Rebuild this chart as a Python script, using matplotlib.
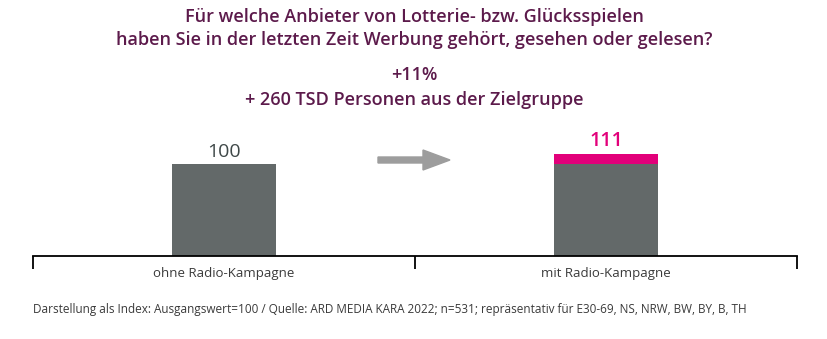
import matplotlib.pyplot as plt
from matplotlib.patches import FancyArrow

categories = ["ohne Radio-Kampagne", "mit Radio-Kampagne"]
base = [100, 100]
uplift = [0, 11]
totals = [100, 111]

gray = "#636969"
pink = "#e2007a"
purple = "#5c1a4b"

plt.rcParams['font.family'] = ['Open Sans', 'DejaVu Sans']

fig = plt.figure(figsize=(8.28, 3.39), dpi=100)
W, H = 828, 339
ax = fig.add_axes([33 / W, (H - 256) / H, (797 - 33) / W, 138 / H])

xs = [0.5, 1.5]
ax.bar(xs, base, width=0.272, color=gray, zorder=2)
ax.bar(xs, uplift, bottom=base, width=0.272, color=pink, zorder=2)

for x, t in zip(xs, totals):
    if t == 100:
        c, w = "#3f4848", "normal"
    else:
        c, w = pink, "semibold"
    ax.text(x, t + 3, str(t), ha="center", va="bottom", fontsize=14, color=c,
            fontweight=w)

for x, c in zip(xs, categories):
    ax.text(x, -19, c, ha="center", va="center", fontsize=9.5, color="#3a3a3a")

ax.set_xlim(0, 2)
ax.set_ylim(0, 150)
for s in ["top", "left", "right"]:
    ax.spines[s].set_visible(False)
ax.spines["bottom"].set_linewidth(1.3)
ax.set_yticks([])
ax.set_xticks([0, 1, 2])
ax.set_xticklabels([])
ax.tick_params(axis="x", direction="out", length=9, width=1.3)

# arrow between the two bars
fig.patches.append(FancyArrow(378 / W, (H - 160) / H, 72 / W, 0, width=6 / H,
                              head_width=20 / H, head_length=27 / W,
                              length_includes_head=True, color="#9d9d9d",
                              transform=fig.transFigure, figure=fig))

fig.text(0.5, 1 - 17 / H, "Für welche Anbieter von Lotterie- bzw. Glücksspielen",
         ha="center", va="center", fontsize=13, color=purple, fontweight="semibold")
fig.text(0.5, 1 - 40 / H, "haben Sie in der letzten Zeit Werbung gehört, gesehen oder gelesen?",
         ha="center", va="center", fontsize=13, color=purple, fontweight="semibold")
fig.text(0.5, 1 - 75 / H, "+11%", ha="center", va="center", fontsize=13,
         color=purple, fontweight="semibold")
fig.text(0.5, 1 - 100 / H, "+ 260 TSD Personen aus der Zielgruppe", ha="center",
         va="center", fontsize=13, color=purple, fontweight="semibold")

fig.text(33 / W, 1 - 310 / H,
         "Darstellung als Index: Ausgangswert=100 / Quelle: ARD MEDIA KARA 2022; n=531; "
         "repräsentativ für E30-69, NS, NRW, BW, BY, B, TH",
         ha="left", va="center", fontsize=8.5, color="#3a3a3a")

fig.savefig("out.png", dpi=100)
